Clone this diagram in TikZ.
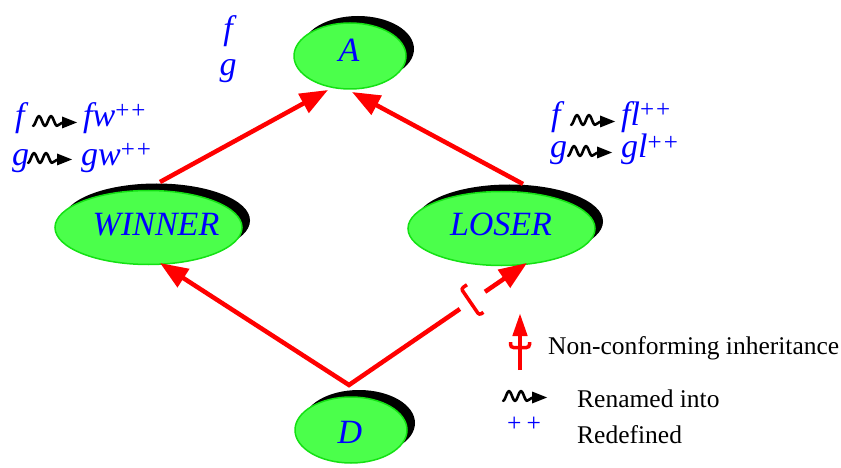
\documentclass[tikz,border=0pt]{standalone}
\usepackage{fontspec}
\setmainfont{Liberation Serif}
\usetikzlibrary{arrows.meta,shapes.geometric,shadows,calc}
\definecolor{ellfill}{RGB}{75,255,75}
\definecolor{elldraw}{RGB}{20,225,20}
\definecolor{lblue}{RGB}{0,0,255}
\newcommand{\plusplus}{\raisebox{8pt}{\fontsize{25}{25}\selectfont\upshape +\kern2pt+}}
\begin{document}
\begin{tikzpicture}[x=1pt,y=-1pt,
  ell/.style={ellipse, draw=elldraw, line width=1.5pt, fill=ellfill, inner sep=0pt,
    drop shadow={opacity=1,fill=black,shadow xshift=8pt,shadow yshift=7pt}},
  bigell/.style={ell, minimum width=187pt, minimum height=74pt},
  smallell/.style={ell, minimum width=112pt, minimum height=66pt},
  elab/.style={text=lblue, font=\fontsize{34}{34}\selectfont\itshape, inner sep=0pt, anchor=base},
  lab/.style={text=lblue, font=\fontsize{34}{34}\selectfont\itshape, inner sep=0pt, anchor=base west},
  legtext/.style={font=\fontsize{25.5}{26}\selectfont, inner sep=0pt, anchor=base west},
  redarrow/.style={draw=red, line width=4.5pt, line join=miter, -{Triangle[length=28pt,width=21pt]}},
  redarrowsmall/.style={draw=red, line width=4.5pt, -{Triangle[length=23pt,width=14pt]}},
  squig/.pic={
    \draw[line width=2.6pt, line cap=round, line join=round]
      plot[domain=0:24, samples=49, smooth] (\x,{4.8*cos(30*\x)});
    \draw[line width=2.6pt, line cap=round] (24,4.8) .. controls (26.5,4.8) and (27,1.5) .. (31,1.5);
    \fill (29,-4.5) -- (44,1.5) -- (29,7.5) -- cycle;
  },
  bracketpic/.pic={
    \draw[red, line width=3.5pt, rounded corners=2.5pt] (7,-16) -- (0,-16) -- (0,16) -- (5,16);
  }
]
\useasboundingbox (0,0) rectangle (841,468);

% ellipses
\node[smallell] (A) at (350,56) {};
\node[bigell] (WINNER) at (148.5,227.5) {};
\node[bigell] (LOSER) at (501.5,228.5) {};
\node[smallell] (D) at (351,430) {};
\node[elab] (Alab) at (349,62) {A};
\node[elab] (Wlab) at (156,235) {WINNER};
\node[elab] (Llab) at (501,235) {LOSER};
\node[elab] (Dlab) at (350,443) {D};

% connector end points
\coordinate (WA1) at (160,182);
\coordinate (WA2) at (328,90);
\coordinate (LA1) at (523,184);
\coordinate (LA2) at (352,92);
\coordinate (Dtop) at (349,385);
\coordinate (Wtip) at (160,263);
\coordinate (Ltip) at (527,263);
\coordinate (g1) at ($(Dtop)!0.623!(Ltip)$);
\coordinate (g2) at ($(Dtop)!0.764!(Ltip)$);
\coordinate (bc) at ($(Dtop)!0.681!(Ltip)$);

\draw[redarrow] (WA1) -- (WA2);
\draw[redarrow] (LA1) -- (LA2);
\draw[redarrow] (g1) -- (Dtop) -- (Wtip);
\draw[redarrow] (g2) -- (Ltip);
\pic[rotate=34.4] at (bc) {bracketpic};

% labels near A
\node[elab] (tf) at (228,40) {f};
\node[elab] (tg) at (228,76) {g};

% left labels
\node[lab] (lf) at (15,127) {f};
\pic at (33,121) {squig};
\node[lab] (lfw) at (83,127) {fw\plusplus};
\node[lab] (lg) at (12,165) {g};
\pic at (28,158) {squig};
\node[lab] (lgw) at (81,165) {gw\plusplus};

% right labels
\node[lab] (rf) at (551,126) {f};
\pic at (571,120) {squig};
\node[lab] (rfl) at (621,126) {fl\plusplus};
\node[lab] (rg) at (550,158) {g};
\pic at (568,151) {squig};
\node[lab] (rgl) at (621,158) {gl\plusplus};

% legend
\coordinate (legS) at (520,370);
\coordinate (legT) at (520,313);
\draw[redarrowsmall] (legS) -- (legT);
\draw[red, line width=3.5pt, rounded corners=3pt] (510.5,342) -- (510.5,347.5) -- (529.5,347.5) -- (529.5,342);
\node[legtext] (nc) at (548,354) {Non-conforming inheritance};
\pic at (503,396) {squig};
\node[legtext] (ri) at (577,407) {Renamed into};
\node[legtext, text=lblue] (pl) at (507,431) {+\kern5pt+};
\node[legtext] (rd) at (577,443) {Redefined};
\end{tikzpicture}
\end{document}
